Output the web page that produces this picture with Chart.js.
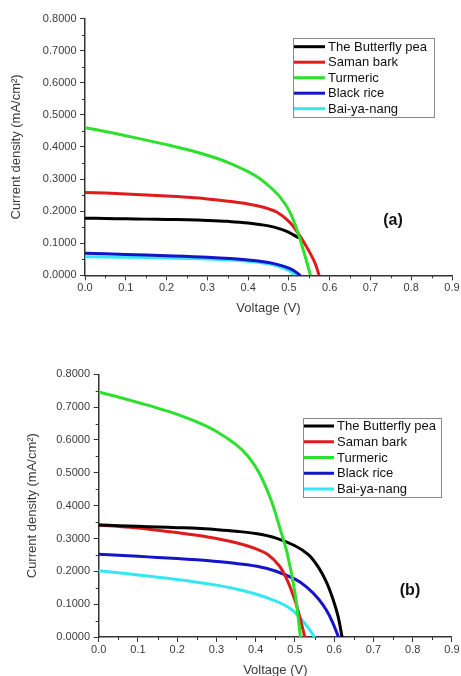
<!DOCTYPE html>
<html>
<head>
<meta charset="utf-8">
<script src="https://cdn.jsdelivr.net/npm/chart.js@4.4.1/dist/chart.umd.min.js"></script>
<style>
  html, body { margin: 0; padding: 0; background: #fff; width: 461px; height: 676px; overflow: hidden; }
  canvas { position: absolute; left: 0; }
  #cA { top: 0; }
  #cB { top: 340px; }
</style>
</head>
<body>
<canvas id="cA" width="461" height="330"></canvas>
<canvas id="cB" width="461" height="345"></canvas>
<script>
// ---------- DATA ----------
const seriesNames = ["The Butterfly pea", "Saman bark", "Turmeric", "Black rice", "Bai-ya-nang"];
const seriesColors = ["#000000", "#e01b1b", "#2ee02e", "#1414c8", "#33e8f0"];
const xTickLabels = ["0.0","0.1","0.2","0.3","0.4","0.5","0.6","0.7","0.8","0.9"];
const yTickLabels = ["0.0000","0.1000","0.2000","0.3000","0.4000","0.5000","0.6000","0.7000","0.8000"];

// Panel (a)
const a_butterfly_V = [0, 0.05, 0.1, 0.15, 0.2, 0.25, 0.3, 0.35, 0.4, 0.45, 0.48, 0.5, 0.522];
const a_butterfly_J = [0.178, 0.177, 0.176, 0.175, 0.174, 0.173, 0.171, 0.168, 0.163, 0.154, 0.144, 0.134, 0.118];
const a_saman_V = [0, 0.05, 0.1, 0.15, 0.2, 0.25, 0.3, 0.35, 0.4, 0.44, 0.47, 0.5, 0.52, 0.54, 0.555, 0.565, 0.574];
const a_saman_J = [0.258, 0.256, 0.253, 0.25, 0.247, 0.243, 0.238, 0.231, 0.222, 0.211, 0.197, 0.168, 0.136, 0.096, 0.062, 0.035, 0];
const a_turmeric_V = [0, 0.05, 0.1, 0.15, 0.2, 0.25, 0.3, 0.35, 0.4, 0.43, 0.46, 0.48, 0.5, 0.512, 0.523, 0.535, 0.545, 0.553];
const a_turmeric_J = [0.46, 0.448, 0.435, 0.421, 0.407, 0.392, 0.374, 0.352, 0.323, 0.3, 0.268, 0.241, 0.203, 0.169, 0.13, 0.08, 0.036, 0];
const a_blackrice_V = [0, 0.1, 0.2, 0.3, 0.4, 0.45, 0.48, 0.5, 0.515, 0.527];
const a_blackrice_J = [0.069, 0.065, 0.061, 0.056, 0.048, 0.04, 0.031, 0.022, 0.012, 0];
const a_baiyanang_V = [0, 0.1, 0.2, 0.3, 0.4, 0.45, 0.48, 0.5, 0.515];
const a_baiyanang_J = [0.058, 0.056, 0.054, 0.051, 0.044, 0.036, 0.026, 0.015, 0];

// Panel (b)
const b_butterfly_V = [0, 0.05, 0.1, 0.15, 0.2, 0.25, 0.3, 0.35, 0.4, 0.45, 0.5, 0.535, 0.56, 0.58, 0.595, 0.61, 0.62];
const b_butterfly_J = [0.341, 0.339, 0.337, 0.335, 0.333, 0.331, 0.327, 0.322, 0.315, 0.302, 0.278, 0.25, 0.212, 0.168, 0.122, 0.062, 0];
const b_saman_V = [0, 0.05, 0.1, 0.15, 0.2, 0.25, 0.3, 0.35, 0.4, 0.43, 0.46, 0.48, 0.5, 0.51, 0.525];
const b_saman_J = [0.341, 0.337, 0.332, 0.325, 0.318, 0.31, 0.3, 0.287, 0.269, 0.252, 0.217, 0.174, 0.112, 0.072, 0];
const b_turmeric_V = [0, 0.05, 0.1, 0.15, 0.2, 0.25, 0.3, 0.35, 0.38, 0.41, 0.44, 0.46, 0.48, 0.5, 0.514];
const b_turmeric_J = [0.746, 0.731, 0.714, 0.697, 0.678, 0.655, 0.626, 0.586, 0.551, 0.497, 0.414, 0.338, 0.256, 0.135, 0];
const b_blackrice_V = [0, 0.05, 0.1, 0.15, 0.2, 0.25, 0.3, 0.35, 0.4, 0.45, 0.5, 0.53, 0.56, 0.58, 0.595, 0.611];
const b_blackrice_J = [0.252, 0.249, 0.246, 0.242, 0.239, 0.235, 0.23, 0.224, 0.216, 0.201, 0.176, 0.152, 0.116, 0.082, 0.047, 0];
const b_baiyanang_V = [0, 0.05, 0.1, 0.15, 0.2, 0.25, 0.3, 0.35, 0.4, 0.45, 0.48, 0.5, 0.52, 0.535, 0.55];
const b_baiyanang_J = [0.202, 0.196, 0.189, 0.182, 0.175, 0.167, 0.158, 0.146, 0.131, 0.11, 0.093, 0.075, 0.049, 0.026, 0];

// ---------- HELPERS ----------
const FONT = "'Liberation Sans', Arial, sans-serif";
function pts(V, J) { return V.map((v, i) => ({ x: v, y: J[i] })); }
function makeDatasets(list) {
  const drawOrder = [2, 3, 1, 4, 5];
  return list.map((pair, i) => ({
    label: seriesNames[i],
    data: pts(pair[0], pair[1]),
    borderColor: seriesColors[i],
    backgroundColor: seriesColors[i],
    borderWidth: 3,
    pointRadius: 0,
    fill: false,
    tension: 0.35,
    borderCapStyle: 'round',
    borderJoinStyle: 'round',
    order: drawOrder[i]
  }));
}

const minorTicks = {
  id: 'minorTicks',
  afterDraw(chart) {
    const ctx = chart.ctx, xs = chart.scales.x, ys = chart.scales.y;
    ctx.save();
    ctx.strokeStyle = '#333';
    ctx.lineWidth = 1;
    ctx.beginPath();
    for (let v = 0.05; v < 0.9; v += 0.1) {
      const px = Math.round(xs.getPixelForValue(v)) + 0.5;
      ctx.moveTo(px, xs.top); ctx.lineTo(px, xs.top + 3);
    }
    for (let v = 0.05; v < 0.8; v += 0.1) {
      const py = Math.round(ys.getPixelForValue(v)) + 0.5;
      ctx.moveTo(ys.right, py); ctx.lineTo(ys.right - 3, py);
    }
    ctx.stroke();
    ctx.restore();
  }
};

const boxLegend = {
  id: 'boxLegend',
  afterDraw(chart, args, o) {
    const ctx = chart.ctx;
    ctx.save();
    ctx.strokeStyle = '#8a8a8a';
    ctx.lineWidth = 1;
    ctx.strokeRect(o.x + 0.5, o.y + 0.5, o.w, o.h);
    ctx.font = '13px ' + FONT;
    ctx.textBaseline = 'middle';
    ctx.textAlign = 'left';
    chart.data.datasets.forEach((ds, i) => {
      const ry = o.row0 + i * o.gap;
      ctx.strokeStyle = ds.borderColor;
      ctx.lineWidth = 3;
      ctx.beginPath();
      ctx.moveTo(o.x + 1, ry); ctx.lineTo(o.x + o.lineLen, ry);
      ctx.stroke();
      ctx.fillStyle = '#111';
      ctx.fillText(ds.label, o.x + o.lineLen + 3, ry + 0.5);
    });
    ctx.font = 'bold 16px ' + FONT;
    ctx.textAlign = 'center';
    ctx.fillStyle = '#111';
    ctx.fillText(o.tag, o.tagX, o.tagY);
    ctx.restore();
  }
};

function makeChart(id, sets, cfg) {
  return new Chart(document.getElementById(id), {
    type: 'line',
    data: { datasets: makeDatasets(sets) },
    plugins: [minorTicks, boxLegend],
    options: {
      responsive: false,
      animation: false,
      devicePixelRatio: 1,
      layout: { padding: { left: 0, top: cfg.padTop, right: cfg.padRight, bottom: 0 } },
      plugins: {
        legend: { display: false },
        tooltip: { enabled: false },
        boxLegend: cfg.legend
      },
      scales: {
        x: {
          type: 'linear', min: 0, max: 0.9,
          afterFit: s => { s.height = cfg.xHeight; },
          afterBuildTicks: s => { s.ticks = xTickLabels.map(t => ({ value: parseFloat(t) })); },
          ticks: { callback: (v, i) => xTickLabels[i], color: '#3a3a3a', font: { family: FONT, size: 11 }, padding: cfg.xTickPad, autoSkip: false, maxRotation: 0 },
          grid: { drawOnChartArea: false, drawTicks: true, tickLength: 5, tickColor: '#333', tickWidth: 1 },
          border: { display: true, color: '#333', width: 1.5 },
          title: { display: true, text: 'Voltage (V)', color: '#3a3a3a', font: { family: FONT, size: 13 }, padding: { top: 0, bottom: cfg.xTitlePad } }
        },
        y: {
          type: 'linear', min: 0, max: 0.8,
          afterFit: s => { s.width = cfg.yWidth; },
          afterBuildTicks: s => { s.ticks = yTickLabels.map(t => ({ value: parseFloat(t) })); },
          ticks: { callback: (v, i) => yTickLabels[i], color: '#3a3a3a', font: { family: FONT, size: 11 }, padding: cfg.yTickPad, autoSkip: false },
          grid: { drawOnChartArea: false, drawTicks: true, tickLength: 5, tickColor: '#333', tickWidth: 1 },
          border: { display: true, color: '#333', width: 1.5 },
          title: { display: true, text: 'Current density (mA/cm\u00B2)', color: '#3a3a3a', font: { family: FONT, size: 13 }, padding: { top: cfg.yTitlePad, bottom: 0 } }
        }
      }
    }
  });
}

makeChart('cA', [
  [a_butterfly_V, a_butterfly_J],
  [a_saman_V, a_saman_J],
  [a_turmeric_V, a_turmeric_J],
  [a_blackrice_V, a_blackrice_J],
  [a_baiyanang_V, a_baiyanang_J]
], {
  padTop: 18.5, padRight: 9, xHeight: 54.7, yWidth: 85,
  xTickPad: 1, yTickPad: 3.5, xTitlePad: 14, yTitlePad: 9,
  legend: { x: 293, y: 38, w: 141, h: 79, row0: 46.7, gap: 15.5, lineLen: 32, tag: '(a)', tagX: 393, tagY: 221 }
});

makeChart('cB', [
  [b_butterfly_V, b_butterfly_J],
  [b_saman_V, b_saman_J],
  [b_turmeric_V, b_turmeric_J],
  [b_blackrice_V, b_blackrice_J],
  [b_baiyanang_V, b_baiyanang_J]
], {
  padTop: 34.3, padRight: 7, xHeight: 48, yWidth: 98.7,
  xTickPad: 1.4, yTickPad: 3.7, xTitlePad: 6.5, yTitlePad: 25,
  legend: { x: 303, y: 78, w: 138, h: 79, row0: 86, gap: 15.75, lineLen: 31, tag: '(b)', tagX: 410, tagY: 251 }
});
</script>
</body>
</html>
